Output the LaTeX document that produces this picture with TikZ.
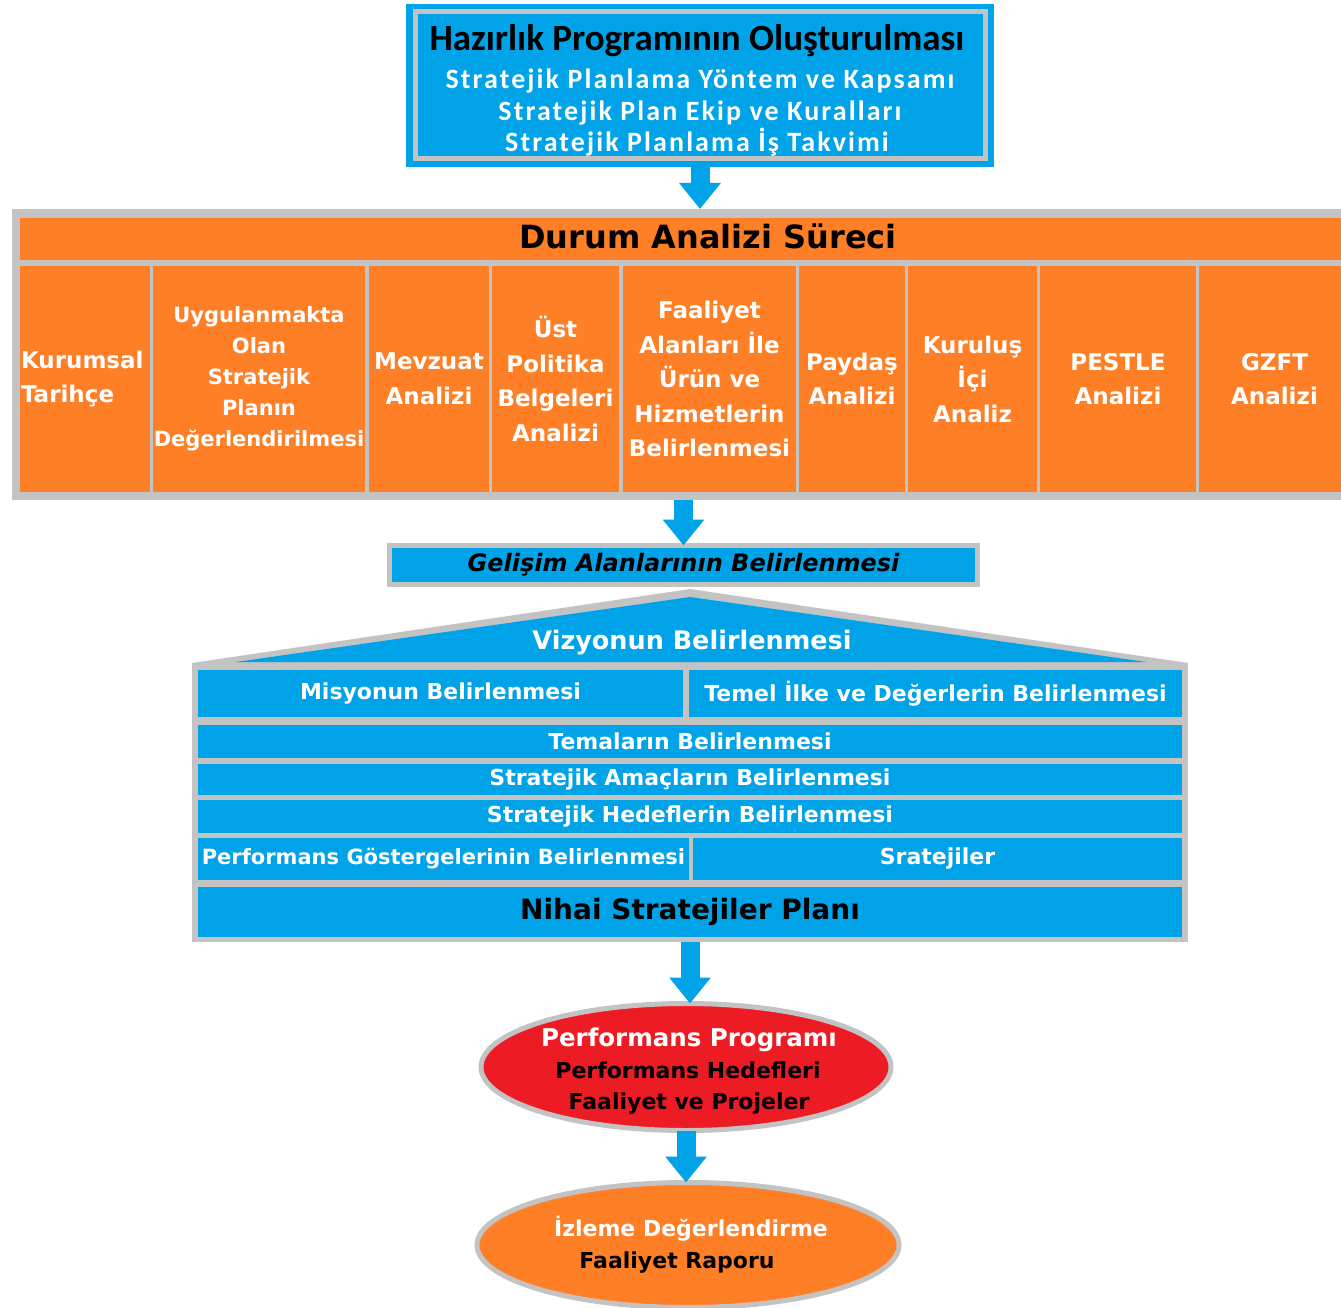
\documentclass[tikz,border=0pt]{standalone}
\usepackage{fontspec}
\setmainfont{DejaVu Sans}
\newfontfamily\calfont{Carlito}
\newfontfamily\calwide{Carlito}[LetterSpace=7.5]
\usetikzlibrary{arrows.meta,shapes.geometric}
\definecolor{paintblue}{RGB}{0,162,232}
\definecolor{paintorange}{RGB}{255,127,39}
\definecolor{paintred}{RGB}{237,28,36}
\definecolor{paintgray}{RGB}{195,195,195}
\newcommand{\fsz}[2]{\fontsize{#1}{#2}\selectfont}

\begin{document}
\begin{tikzpicture}[x=1pt,y=-1pt,
    every node/.style={inner sep=0pt,outer sep=0pt,align=center},
    cell/.style={fill=paintorange,text=white,minimum height=226pt,font=\bfseries\fsz{23}{34.5}},
    row/.style={fill=paintblue,text=white,font=\bfseries\fsz{22}{25}},
    oval/.style={ellipse,draw=paintgray,line width=5pt},
    flow/.style={draw=paintblue,line width=19pt,-{Triangle[width=40pt,length=26pt]}}]
            \fill[white] (0,0) rectangle (1341,1308);
            \useasboundingbox (0,0) rectangle (1341,1308);

            \node[fill=paintblue,minimum width=588pt,minimum height=163pt] (hazirlik) at (700,85.5) {};
            \draw[paintgray,line width=5pt] ([shift={(9,8)}]hazirlik.north west) rectangle ([shift={(-9,-8)}]hazirlik.south east);
            \node[anchor=base,font=\calfont\bfseries\fsz{37}{37}] (hbaslik) at (697,51) {Hazırlık Programının Oluşturulması};
            \node[anchor=base,text=white,font=\calwide\bfseries\fsz{28}{28}] (hsatir1) at (700,89) {Stratejik Planlama Yöntem ve Kapsamı};
            \node[anchor=base,text=white,font=\calwide\bfseries\fsz{28}{28}] (hsatir2) at (700,121) {Stratejik Plan Ekip ve Kuralları};
            \node[anchor=base,text=white,font=\calwide\bfseries\fsz{28}{28}] (hsatir3) at (697,152) {Stratejik Planlama İş Takvimi};

            \node[fill=paintgray,minimum width=1338pt,minimum height=291pt] (durum) at (681,354.5) {};
            \node[fill=paintorange,minimum width=1330pt,minimum height=42pt] (baslik) at (685,239) {};
            \node[anchor=base,font=\bfseries\fsz{32}{32}] (durumyazi) at (708,248) {Durum Analizi Süreci};

            \node[cell,minimum width=130pt,text width=128pt,align=left] (tarihce) at (85,379) {Kurumsal\\Tarihçe};
            \node[cell,minimum width=212pt,font=\bfseries\fsz{21}{31}] (degerlendirme) at (259,379) {Uygulanmakta\\Olan\\Stratejik\\Planın\\Değerlendirilmesi};
            \node[cell,minimum width=120pt] (mevzuat) at (429,379) {Mevzuat\\Analizi};
            \node[cell,minimum width=127pt] (politika) at (555.5,379) {Üst\\Politika\\Belgeleri\\Analizi};
            \node[cell,minimum width=173pt] (faaliyet) at (709.5,379) {Faaliyet\\Alanları İle\\Ürün ve\\Hizmetlerin\\Belirlenmesi};
            \node[cell,minimum width=106pt] (paydas) at (852,379) {Paydaş\\Analizi};
            \node[cell,minimum width=129pt] (kurulus) at (972.5,379) {Kuruluş\\İçi\\Analiz};
            \node[cell,minimum width=156pt] (pestle) at (1118,379) {PESTLE\\Analizi};
            \node[cell,minimum width=151pt] (gzft) at (1274.5,379) {GZFT\\Analizi};

            \node[draw=paintgray,line width=5pt,fill=paintblue,minimum width=588pt,minimum height=39pt,font=\bfseries\itshape\fsz{24}{24}] (gelisim) at (683.5,565) {Gelişim Alanlarının Belirlenmesi};

            \node[fill=paintgray,minimum width=996pt,minimum height=279pt] (ev) at (690,802.5) {};
            \fill[paintgray] (ev.north west) -- (690,589) -- (ev.north east) -- cycle;
            \fill[paintblue] (236,662) -- (690,597) -- (1146,662) -- cycle;
            \node[text=white,font=\bfseries\fsz{25.5}{26}] (vizyon) at (692,643) {Vizyonun Belirlenmesi};

            \node[row,minimum width=485pt,minimum height=47pt] (misyon) at (440.5,693.5) {Misyonun Belirlenmesi};
            \node[row,minimum width=493pt,minimum height=47pt] (temel) at (935.5,693.5) {Temel İlke ve Değerlerin Belirlenmesi};
            \node[row,minimum width=984pt,minimum height=33pt] (tema) at (690,741.5) {Temaların Belirlenmesi};
            \node[row,minimum width=984pt,minimum height=31pt] (amac) at (690,779.5) {Stratejik Amaçların Belirlenmesi};
            \node[row,minimum width=984pt,minimum height=33pt] (hedef) at (690,816.5) {Stratejik Hedeflerin Belirlenmesi};
            \node[row,minimum width=491pt,minimum height=42pt,font=\bfseries\fsz{21}{25}] (gosterge) at (443.5,859) {Performans Göstergelerinin Belirlenmesi};
            \node[row,minimum width=489pt,minimum height=42pt] (stratejiler) at (937.5,859) {Sratejiler};
            \node[row,text=black,minimum width=984pt,minimum height=50pt,font=\bfseries\fsz{28}{28}] (nihai) at (690,912) {Nihai Stratejiler Planı};

            \node[oval,fill=paintred,minimum width=410pt,minimum height=127pt] (program) at (686,1067) {};
            \node[anchor=base,text=white,font=\bfseries\fsz{24.5}{25}] (program1) at (689,1046) {Performans Programı};
            \node[anchor=base,font=\bfseries\fsz{22}{22}] (program2) at (688,1078) {Performans Hedefleri};
            \node[anchor=base,font=\bfseries\fsz{22}{22}] (program3) at (689,1109) {Faaliyet ve Projeler};

            \node[oval,fill=paintorange,minimum width=422pt,minimum height=125pt] (izleme) at (688,1245) {};
            \node[anchor=base,text=white,font=\bfseries\fsz{22}{22}] (izleme1) at (691,1236) {İzleme Değerlendirme};
            \node[anchor=base,font=\bfseries\fsz{22}{22}] (izleme2) at (677,1268) {Faaliyet Raporu};

            \draw[flow] (hazirlik.south) -- (durum.north -| hazirlik.south);
            \draw[flow] (durum.south -| gelisim.north) -- (gelisim.north);
            \draw[flow] (ev.south) -- (ev.south |- program.north);
            \draw[flow] (program.south) -- (program.south |- izleme.north);
        \end{tikzpicture}
\end{document}
